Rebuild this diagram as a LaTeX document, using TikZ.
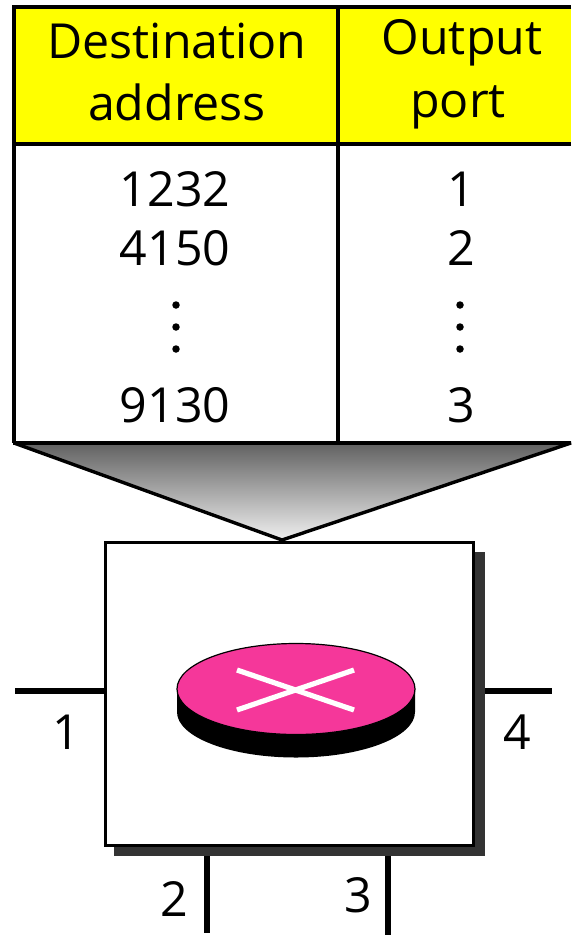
\documentclass[tikz,border=0pt]{standalone}
\usepackage{fontspec}
\setmainfont{Open Sans}
\definecolor{pinkdisc}{HTML}{F5379A}
\definecolor{shadowgray}{HTML}{333333}
\definecolor{headyellow}{rgb}{1,1,0}
\tikzset{
  txt/.style={anchor=base,inner sep=0pt,font=\fontsize{48.3}{48.3}\selectfont},
  tablerule/.style={draw=black,line width=3.6pt},
  port/.style={draw=black,line width=5.2pt},
  xline/.style={draw=white,line width=5.2pt},
  dotmark/.style={circle,fill=black,inner sep=0pt,minimum size=7.5pt},
}
\begin{document}
\begin{tikzpicture}[x=1pt,y=-1pt]
\useasboundingbox (0,0) rectangle (571,935);
% table
\fill[headyellow] (14,8) rectangle (571,144);
\fill[white] (14,144) rectangle (571,443);
% funnel
\shade[top color=black!62,bottom color=black!6,draw=black,line width=3.4pt,line join=bevel]
  (14,443) -- (571,443) -- (282,540) -- cycle;
\draw[tablerule] (571,7) -- (14,7) -- (14,443);
\draw[tablerule] (338,7) -- (338,443);
\draw[tablerule] (14,144) -- (571,144);
\draw[black,line width=4.8pt] (12.5,443) -- (571,443);
% switch box
\fill[shadowgray] (114,552) rectangle (485,856);
\node[draw=black,fill=white,line width=3.4pt,minimum width=368pt,minimum height=303pt,inner sep=0pt,outer sep=0pt,anchor=north west] (box) at (105.5,542.5) {};
% ports
\coordinate (p1) at (15,691);
\coordinate (p1in) at (box.west |- p1);
\coordinate (p4) at (552,691);
\coordinate (p4in) at (485,691);
\coordinate (p2) at (207,933);
\coordinate (p2in) at (207,856);
\coordinate (p3) at (388,935);
\coordinate (p3in) at (388,856);
\draw[port] (p1) -- (p1in);
\draw[port] (p4in) -- (p4);
\draw[port] (p2in) -- (p2);
\draw[port] (p3in) -- (p3);
% disc
\fill[black] (177,689) -- (177,712) arc[start angle=180,end angle=360,x radius=119,y radius=-45.5] -- (415,689) -- cycle;
\draw[fill=pinkdisc,draw=black,line width=1.2pt] (296,689) ellipse[x radius=119,y radius=45.5];
\coordinate (xa) at (237,670); \coordinate (xb) at (354,710);
\coordinate (xc) at (237,710); \coordinate (xd) at (354,670);
\draw[xline] (xa) -- (xb);
\draw[xline] (xc) -- (xd);
% text
\node[txt] (h1a) at (177,58) {Destination};
\node[txt] (h1b) at (177,120) {address};
\node[txt] (h2a) at (462,54) {Output};
\node[txt] (h2b) at (458,117) {port};
\node[txt] (r1a) at (175,206) {1232};
\node[txt] (r2a) at (175,265) {4150};
\node[txt] (r3a) at (175,422) {9130};
\node[txt] (r1b) at (461,206) {1};
\node[txt] (r2b) at (461,265) {2};
\node[txt] (r3b) at (461,422) {3};
\foreach \y in {305,327,349} {
  \node[dotmark] at (176,\y) {};
  \node[dotmark] at (460,\y) {};
}
\node[txt] (l1) at (66,749) {1};
\node[txt] (l4) at (517,749) {4};
\node[txt] (l2) at (174,916) {2};
\node[txt] (l3) at (358,912) {3};
\end{tikzpicture}
\end{document}
